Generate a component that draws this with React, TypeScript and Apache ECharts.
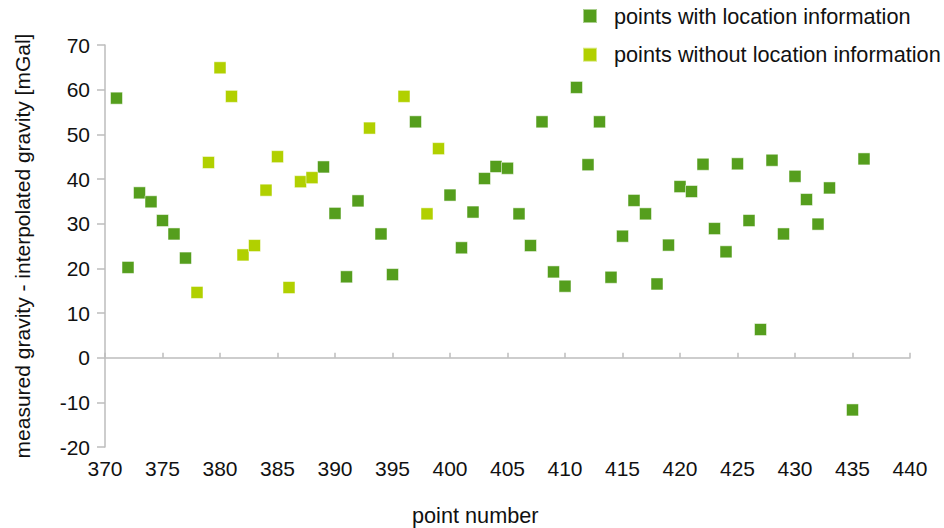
import React, { useEffect, useRef } from "react";
import * as echarts from "echarts";

const withLocX = [371, 372, 373, 374, 375, 376, 377, 389, 390, 391, 392, 394, 395, 397, 400, 401, 402, 403, 404, 405, 406, 407, 408, 409, 410, 411, 412, 413, 414, 415, 416, 417, 418, 419, 420, 421, 422, 423, 424, 425, 426, 427, 428, 429, 430, 431, 432, 433, 435, 436];
const withLocY = [58.1, 20.2, 36.9, 34.9, 30.7, 27.7, 22.3, 42.7, 32.3, 18.1, 35.1, 27.7, 18.6, 52.8, 36.4, 24.6, 32.6, 40.1, 42.8, 42.4, 32.2, 25.1, 52.8, 19.2, 16.0, 60.5, 43.2, 52.8, 18.0, 27.2, 35.2, 32.2, 16.5, 25.2, 38.3, 37.2, 43.3, 28.9, 23.7, 43.4, 30.7, 6.3, 44.2, 27.7, 40.6, 35.4, 29.9, 38.0, -11.7, 44.5];

const withoutLocX = [378, 379, 380, 381, 382, 383, 384, 385, 386, 387, 388, 393, 396, 398, 399];
const withoutLocY = [14.6, 43.7, 64.9, 58.5, 23.0, 25.1, 37.5, 45.0, 15.7, 39.4, 40.3, 51.4, 58.5, 32.2, 46.8];

const seriesNames = ["points with location information", "points without location information"];
const xAxisName = "point number";
const yAxisName = "measured gravity - interpolated gravity [mGal]";

const FONT = "'Liberation Sans', Arial, sans-serif";
const TEXT = "#111111";
const AXIS = "#bdbdbd";
const DARK = "#559e1d";
const LIGHT = "#b1d000";

export default function App() {
  const ref = useRef<HTMLDivElement>(null);
  useEffect(() => {
    if (!ref.current) return;
    const chart = echarts.init(ref.current, undefined, { renderer: "svg" });
    const pts = (xs: number[], ys: number[]) => xs.map((x, i) => [x, ys[i]]);
    chart.setOption({
      animation: false,
      textStyle: { fontFamily: FONT },
      grid: { left: 105, right: 34, top: 45, bottom: 81 },
      legend: {
        orient: "vertical",
        left: 577,
        top: 0,
        itemWidth: 14,
        itemHeight: 14,
        itemGap: 16.7,
        icon: "rect",
        textStyle: { fontSize: 21.7, color: TEXT, fontFamily: FONT, lineHeight: 22, padding: [0, 0, 0, 12] },
        data: seriesNames,
      },
      xAxis: {
        type: "value",
        min: 370,
        max: 440,
        interval: 5,
        splitLine: { show: false },
        axisLine: { show: true, lineStyle: { color: AXIS, width: 1.5 } },
        axisTick: { show: true, inside: true, length: 5, lineStyle: { color: AXIS, width: 1.5 } },
        axisLabel: { fontSize: 21, color: TEXT, margin: 11, fontFamily: FONT },
      },
      yAxis: {
        type: "value",
        min: -20,
        max: 70,
        interval: 10,
        splitLine: { show: false },
        axisLine: { show: true, lineStyle: { color: AXIS, width: 1.5 } },
        axisTick: { show: true, inside: false, length: 8, lineStyle: { color: AXIS, width: 1.5 } },
        axisLabel: { fontSize: 21, color: TEXT, margin: 15, fontFamily: FONT },
        name: yAxisName,
        nameLocation: "middle",
        nameGap: 72,
        nameTextStyle: { fontSize: 21, color: TEXT, fontFamily: FONT },
      },
      graphic: [
        {
          type: "text",
          left: 476 - 64,
          top: 504,
          style: { text: xAxisName, fontSize: 21.7, fill: TEXT, fontFamily: FONT },
        },
      ],
      series: [
        {
          name: seriesNames[0],
          type: "scatter",
          symbol: "rect",
          symbolSize: 12,
          itemStyle: { color: DARK, opacity: 1, borderColor: "rgba(255,255,255,0.5)", borderWidth: 1 },
          data: pts(withLocX, withLocY),
        },
        {
          name: seriesNames[1],
          type: "scatter",
          symbol: "rect",
          symbolSize: 12,
          itemStyle: { color: LIGHT, opacity: 1, borderColor: "rgba(255,255,255,0.5)", borderWidth: 1 },
          data: pts(withoutLocX, withoutLocY),
        },
      ],
    });
    return () => chart.dispose();
  }, []);
  return <div ref={ref} style={{ position: "absolute", left: 0, top: 0, width: 944, height: 528 }} />;
}
